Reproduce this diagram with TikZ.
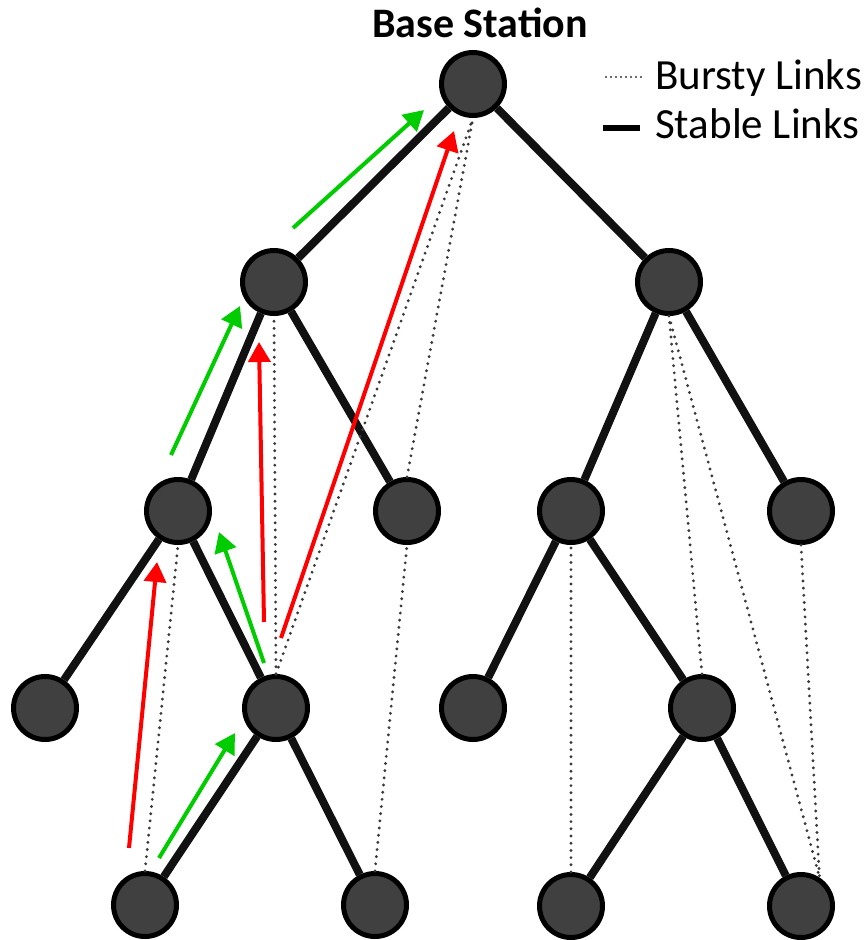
\documentclass[tikz,border=0pt]{standalone}
\usepackage{fontspec}
\setmainfont{Carlito}
\usetikzlibrary{arrows.meta}
\definecolor{nodefill}{HTML}{404040}
\definecolor{edgeblack}{HTML}{111111}
\definecolor{dotgrey}{HTML}{3A3A3A}
\definecolor{fwdgreen}{HTML}{00CC00}
\definecolor{retxred}{HTML}{FF0000}
\begin{document}
\begin{tikzpicture}[x=1pt,y=-1pt,
  sensor/.style={circle, fill=nodefill, draw=black, line width=5pt,
    minimum size=63pt, inner sep=0pt},
  stable/.style={draw=edgeblack, line width=8pt},
  bursty/.style={draw=dotgrey, line width=3.2pt, line cap=round,
    dash pattern=on 0pt off 7.2pt},
  hopgreen/.style={draw=fwdgreen, line width=4pt,
    -{Triangle[length=20pt,width=22pt]}},
  hopred/.style={draw=retxred, line width=4pt,
    -{Triangle[length=20pt,width=22pt]}},
  label/.style={font=\fontsize{43}{47}\selectfont, inner sep=0pt}
]
\fill[white] (0,0) rectangle (865,940);
\useasboundingbox (0,0) rectangle (865,940);

% tree nodes
\node[sensor] (bs) at (473,84) {};
\node[sensor] (a1) at (274,282) {};
\node[sensor] (a2) at (669,282) {};
\node[sensor] (b1) at (178,511) {};
\node[sensor] (b2) at (407,511) {};
\node[sensor] (b3) at (571,511) {};
\node[sensor] (b4) at (801,511) {};
\node[sensor] (c1) at (45,708) {};
\node[sensor] (c2) at (276,708) {};
\node[sensor] (c3) at (473,708) {};
\node[sensor] (c4) at (702,708) {};
\node[sensor] (d1) at (145,905) {};
\node[sensor] (d2) at (375,905) {};
\node[sensor] (d3) at (571,906) {};
\node[sensor] (d4) at (801,906) {};

% stable tree links
\draw[stable] (bs) -- (a1);
\draw[stable] (bs) -- (a2);
\draw[stable] (a1) -- (b1);
\draw[stable] (a1) -- (b2);
\draw[stable] (a2) -- (b3);
\draw[stable] (a2) -- (b4);
\draw[stable] (b1) -- (c1);
\draw[stable] (b1) -- (c2);
\draw[stable] (b3) -- (c3);
\draw[stable] (b3) -- (c4);
\draw[stable] (c2) -- (d1);
\draw[stable] (c2) -- (d2);
\draw[stable] (c4) -- (d3);
\draw[stable] (c4) -- (d4);

% bursty long-range links
\draw[bursty] (d1.north) -- (b1.south);
\draw[bursty] (c2.north) -- (a1.south);
\draw[bursty] (c2.north) -- (bs.south);
\draw[bursty] (d2.north) -- (b2.south);
\draw[bursty] (b2.north) -- (bs.south);
\draw[bursty] (d3.north) -- (b3.south);
\draw[bursty] (c4.north) -- (a2.south);
\draw[bursty] (a2.south) -- (d4.57);
\draw[bursty] (b4.south) -- (d4.57);

% hop-by-hop forwarding (green)
\coordinate (g1s) at (293,228); \coordinate (g1e) at (424,110);
\coordinate (g2s) at (171,455); \coordinate (g2e) at (240,306);
\coordinate (g3s) at (264,663); \coordinate (g3e) at (219,532);
\coordinate (g4s) at (159,858); \coordinate (g4e) at (235,733);
\draw[hopgreen] (g1s) -- (g1e);
\draw[hopgreen] (g2s) -- (g2e);
\draw[hopgreen] (g3s) -- (g3e);
\draw[hopgreen] (g4s) -- (g4e);

% long-range shortcuts (red)
\coordinate (r1s) at (129,848); \coordinate (r1e) at (157,562);
\coordinate (r2s) at (264,622); \coordinate (r2e) at (259,342);
\coordinate (r3s) at (281,638); \coordinate (r3e) at (454,131);
\draw[hopred] (r1s) -- (r1e);
\draw[hopred] (r2s) -- (r2e);
\draw[hopred] (r3s) -- (r3e);

% title
\node[label, font=\fontsize{42}{46}\selectfont\bfseries, anchor=base] (title) at (480,37) {Base Station};

% legend
\coordinate (lb1) at (606,77); \coordinate (lb2) at (642,77);
\coordinate (ls1) at (603,128); \coordinate (ls2) at (640,128);
\draw[bursty, line width=2.4pt, dash pattern=on 0pt off 5pt] (lb1) -- (lb2);
\draw[draw=black, line width=6pt] (ls1) -- (ls2);
\node[label, anchor=base west] (lgb) at (655,89) {Bursty Links};
\node[label, anchor=base west] (lgs) at (655,138) {Stable Links};
\end{tikzpicture}
\end{document}
